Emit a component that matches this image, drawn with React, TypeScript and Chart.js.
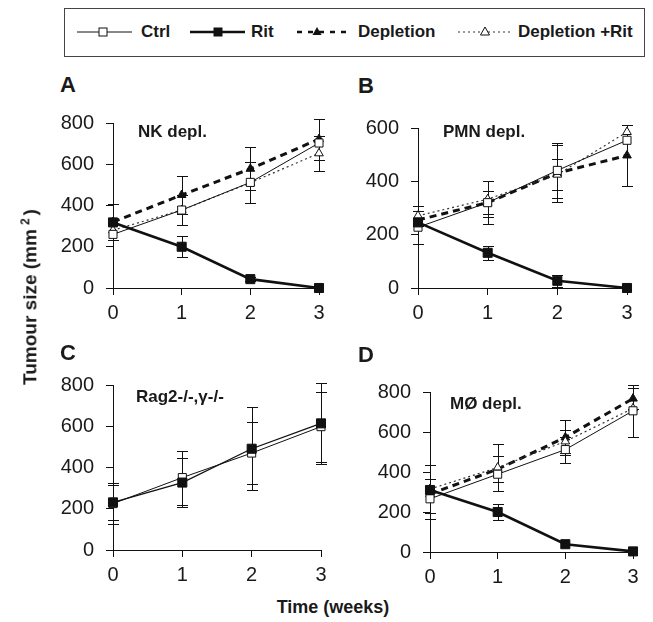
import React, { useEffect, useRef } from "react";
import { Chart, registerables } from "chart.js";
Chart.register(...registerables);

// ---- data ----
const weeks = [0, 1, 2, 3];

// Panel A – NK depletion
const nkCtrl = [260, 378, 512, 703];
const nkCtrlErr = [0, 72, 100, 0];
const nkRit = [318, 200, 43, 0];
const nkRitErr = [0, 50, 10, 0];
const nkDep = [320, 451, 578, 722];
const nkDepErr = [85, 91, 104, 99];
const nkDepRit = [280, 378, 510, 653];
const nkDepRitErr = [0, 0, 0, 84];

// Panel B – PMN depletion
const pmnCtrl = [228, 320, 441, 554];
const pmnCtrlErr = [62, 43, 104, 0];
const pmnRit = [246, 132, 27, 0];
const pmnRitErr = [0, 27, 22, 0];
const pmnDep = [255, 320, 431, 497];
const pmnDepErr = [0, 80, 107, 113];
const pmnDepRit = [271, 333, 425, 585];
const pmnDepRitErr = [37, 67, 59, 0];

// Panel C – Rag2-/-,γ-/-
const ragCtrl = [225, 351, 470, 598];
const ragCtrlErr = [98, 131, 150, 170];
const ragRit = [231, 327, 491, 614];
const ragRitErr = [84, 120, 200, 195];

// Panel D – macrophage depletion
const moCtrl = [266, 389, 512, 706];
const moCtrlErr = [99, 0, 65, 130];
const moRit = [310, 200, 39, 3];
const moRitErr = [0, 40, 0, 0];
const moDep = [290, 414, 573, 767];
const moDepErr = [0, 65, 87, 52];
const moDepRit = [315, 422, 553, 718];
const moDepRitErr = [118, 118, 58, 0];

const yTicksStep = 200;
const legendLabels = ["Ctrl", "Rit", "Depletion", "Depletion +Rit"];

const FONT = '"Liberation Sans", Arial, Helvetica, sans-serif';
const INK = "#111";

type Kind = "ctrl" | "rit" | "dep" | "deprit";
type Series = { kind: Kind; values: number[]; err: number[]; thin?: boolean };

function styleFor(kind: Kind, thin?: boolean): any {
  switch (kind) {
    case "ctrl":
      return {
        borderColor: INK, borderWidth: 1, pointStyle: "rect", pointRadius: 5.7,
        pointBackgroundColor: "#fff", pointBorderColor: INK, pointBorderWidth: 1,
      };
    case "rit":
      return {
        borderColor: INK, borderWidth: thin ? 1.3 : 2.6, pointStyle: "rect", pointRadius: 6.4,
        pointBackgroundColor: INK, pointBorderColor: INK, pointBorderWidth: 1,
      };
    case "dep":
      return {
        borderColor: INK, borderWidth: 3, borderDash: [7, 5], pointStyle: "triangle", pointRadius: 5,
        pointBackgroundColor: INK, pointBorderColor: INK, pointBorderWidth: 1,
      };
    case "deprit":
      return {
        borderColor: "#333", borderWidth: 1.2, borderDash: [2, 3], pointStyle: "triangle", pointRadius: 5,
        pointBackgroundColor: "#fff", pointBorderColor: INK, pointBorderWidth: 1,
      };
  }
}

const errorBarPlugin = {
  id: "errorBars",
  beforeDatasetsDraw(chart: any) {
    const ctx = chart.ctx;
    const ys = chart.scales.y;
    ctx.save();
    ctx.strokeStyle = INK;
    ctx.lineWidth = 1;
    ctx.setLineDash([]);
    chart.data.datasets.forEach((ds: any, i: number) => {
      const meta = chart.getDatasetMeta(i);
      const err: number[] = ds.err || [];
      meta.data.forEach((pt: any, j: number) => {
        const e = err[j];
        if (!e) return;
        const v = ds.data[j].y;
        const x = Math.round(pt.x) + 0.5;
        const y1 = Math.round(ys.getPixelForValue(v + e)) + 0.5;
        const y2 = Math.round(ys.getPixelForValue(v - e)) + 0.5;
        ctx.beginPath();
        ctx.moveTo(x, y1);
        ctx.lineTo(x, y2);
        ctx.moveTo(x - 5.5, y1);
        ctx.lineTo(x + 5.5, y1);
        ctx.moveTo(x - 5.5, y2);
        ctx.lineTo(x + 5.5, y2);
        ctx.stroke();
      });
    });
    ctx.restore();
  },
};

const YW = 75, XH = 45, PT = 22, PR = 22;

type Area = { l: number; t: number; r: number; b: number };

function Panel({ area, yMax, series }: { area: Area; yMax: number; series: Series[] }) {
  const ref = useRef<HTMLCanvasElement>(null);
  const w = area.r - area.l + YW + PR;
  const h = area.b - area.t + PT + XH;
  useEffect(() => {
    const tickFont = { family: FONT, size: 20 };
    const chart = new Chart(ref.current!, {
      type: "line",
      data: {
        datasets: series.map((s) => ({
          ...styleFor(s.kind, s.thin),
          data: weeks.map((wk, i) => ({ x: wk, y: s.values[i] })),
          err: s.err,
          tension: 0,
          clip: false,
          fill: false,
        })) as any,
      },
      options: {
        animation: false,
        responsive: false,
        devicePixelRatio: 1,
        events: [],
        layout: { autoPadding: false, padding: { left: 0, top: PT, right: PR, bottom: 0 } },
        plugins: { legend: { display: false }, tooltip: { enabled: false } },
        scales: {
          x: {
            type: "linear", min: 0, max: 3,
            ticks: { stepSize: 1, font: tickFont, color: "#1a1a1a", padding: 6 },
            grid: { drawOnChartArea: false, tickLength: 7, color: INK, lineWidth: 1 },
            border: { color: INK, width: 1 },
            afterFit: (s: any) => { s.height = XH; },
          },
          y: {
            type: "linear", min: 0, max: yMax,
            ticks: { stepSize: yTicksStep, font: tickFont, color: "#1a1a1a", padding: 12 },
            grid: { drawOnChartArea: false, tickLength: 7, color: INK, lineWidth: 1 },
            border: { color: INK, width: 1 },
            afterFit: (s: any) => { s.width = YW; },
          },
        },
      } as any,
      plugins: [errorBarPlugin],
    });
    return () => chart.destroy();
  }, []);
  return (
    <canvas
      ref={ref}
      width={w}
      height={h}
      style={{ position: "absolute", left: area.l - YW, top: area.t - PT, width: w, height: h }}
    />
  );
}

const abs = (left: number, top: number, extra: any = {}): any => ({
  position: "absolute", left, top, fontFamily: FONT, color: "#1a1a1a", whiteSpace: "nowrap", ...extra,
});

function Legend() {
  const cy = 24; // relative to box top (8)
  return (
    <div style={abs(64, 8, { width: 581, height: 49, border: "1px solid #444", boxSizing: "border-box" })}>
      <svg width={581} height={49} style={{ position: "absolute", left: -1, top: -1 }}>
        {/* Ctrl */}
        <line x1={13} x2={68} y1={cy} y2={cy} stroke={INK} strokeWidth={1} />
        <rect x={35} y={cy - 4} width={8} height={8} fill="#fff" stroke={INK} strokeWidth={1} />
        {/* Rit */}
        <line x1={126} x2={181} y1={cy} y2={cy} stroke={INK} strokeWidth={2.6} />
        <rect x={149.5} y={cy - 4.5} width={9} height={9} fill={INK} />
        {/* Depletion */}
        <line x1={233} x2={288} y1={cy} y2={cy} stroke={INK} strokeWidth={2.6} strokeDasharray="5 6" />
        <polygon points={`253,${cy - 5} 257.5,${cy + 3} 248.5,${cy + 3}`} fill={INK} />
        {/* Depletion + Rit */}
        <line x1={394} x2={449} y1={cy} y2={cy} stroke="#333" strokeWidth={1.2} strokeDasharray="2 3" />
        <polygon points={`421,${cy - 5} 425.5,${cy + 3} 416.5,${cy + 3}`} fill="#fff" stroke={INK} strokeWidth={1} />
      </svg>
      <span style={abs(76, 13, { fontSize: 17, fontWeight: "bold", lineHeight: "20px" })}>{legendLabels[0]}</span>
      <span style={abs(186, 13, { fontSize: 17, fontWeight: "bold", lineHeight: "20px" })}>{legendLabels[1]}</span>
      <span style={abs(293, 13, { fontSize: 17, fontWeight: "bold", lineHeight: "20px" })}>{legendLabels[2]}</span>
      <span style={abs(453, 13, { fontSize: 17, fontWeight: "bold", lineHeight: "20px" })}>{legendLabels[3]}</span>
    </div>
  );
}

export default function App() {
  const letter = { fontSize: 22, fontWeight: "bold", lineHeight: "22px" };
  const note = { fontSize: 17, fontWeight: "bold", lineHeight: "17px" };
  return (
    <div style={{ position: "absolute", left: 0, top: 0, width: 653, height: 622, background: "#fff", overflow: "hidden" }}>
      <Legend />
      <Panel
        area={{ l: 113, t: 121, r: 319, b: 288 }}
        yMax={800}
        series={[
          { kind: "rit", values: nkRit, err: nkRitErr },
          { kind: "ctrl", values: nkCtrl, err: nkCtrlErr },
          { kind: "deprit", values: nkDepRit, err: nkDepRitErr },
          { kind: "dep", values: nkDep, err: nkDepErr },
        ]}
      />
      <Panel
        area={{ l: 418, t: 126, r: 627, b: 288 }}
        yMax={600}
        series={[
          { kind: "rit", values: pmnRit, err: pmnRitErr },
          { kind: "ctrl", values: pmnCtrl, err: pmnCtrlErr },
          { kind: "deprit", values: pmnDepRit, err: pmnDepRitErr },
          { kind: "dep", values: pmnDep, err: pmnDepErr },
        ]}
      />
      <Panel
        area={{ l: 113, t: 383, r: 321, b: 550 }}
        yMax={800}
        series={[
          { kind: "rit", values: ragRit, err: ragRitErr, thin: true },
          { kind: "ctrl", values: ragCtrl, err: ragCtrlErr },
        ]}
      />
      <Panel
        area={{ l: 430, t: 390, r: 633, b: 552 }}
        yMax={800}
        series={[
          { kind: "rit", values: moRit, err: moRitErr },
          { kind: "ctrl", values: moCtrl, err: moCtrlErr },
          { kind: "deprit", values: moDepRit, err: moDepRitErr },
          { kind: "dep", values: moDep, err: moDepErr },
        ]}
      />
      <div style={abs(60, 74, letter)}>A</div>
      <div style={abs(358, 75, letter)}>B</div>
      <div style={abs(60, 342, letter)}>C</div>
      <div style={abs(358, 344, letter)}>D</div>
      <div style={abs(138, 123, note)}>NK depl.</div>
      <div style={abs(443, 123, note)}>PMN depl.</div>
      <div style={abs(136, 388, note)}>Rag2-/-,γ-/-</div>
      <div style={abs(450, 395, note)}>MØ depl.</div>
      <div
        style={abs(28, 297, {
          fontSize: 19, fontWeight: "bold", lineHeight: "22px",
          transform: "translate(-50%, -50%) rotate(-90deg)",
        })}
      >
        Tumour size (mm<sup style={{ fontSize: 12, marginLeft: 4, marginRight: 3 }}>2</sup>)
      </div>
      <div
        style={abs(333, 607, {
          fontSize: 18, fontWeight: "bold", lineHeight: "20px",
          transform: "translate(-50%, -50%)",
        })}
      >
        Time (weeks)
      </div>
    </div>
  );
}
